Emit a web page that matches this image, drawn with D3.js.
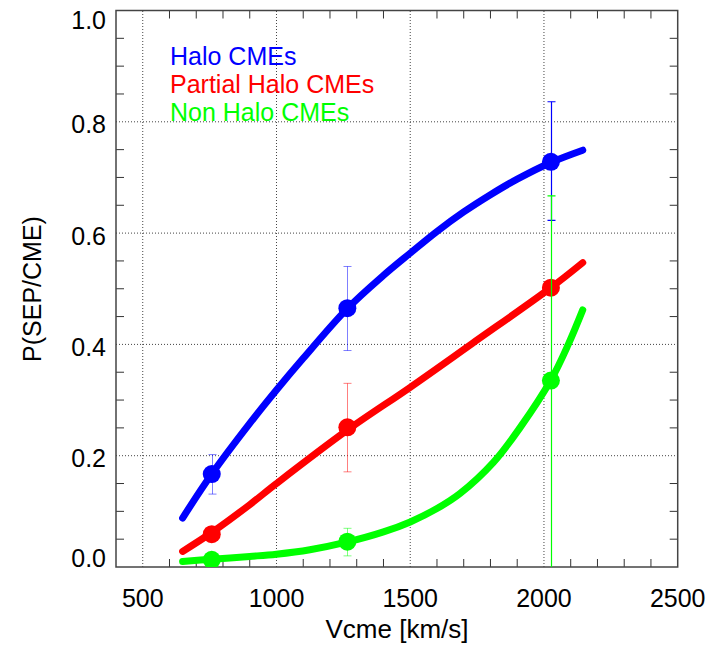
<!DOCTYPE html>
<html>
<head>
<meta charset="utf-8">
<script src="https://cdn.jsdelivr.net/npm/d3@7"></script>
<style>
  html, body { margin: 0; padding: 0; background: #fff; }
  svg { display: block; }
  text { font-family: "Liberation Sans", Arial, Helvetica, sans-serif; fill: #000; }
</style>
</head>
<body>
<svg id="chart" width="717" height="646"></svg>
<script>
// ---------------- data ----------------
const seriesNames = ["Halo CMEs", "Partial Halo CMEs", "Non Halo CMEs"];
const seriesColors = ["#0000ff", "#ff0000", "#00ff00"];

// fitted curves
const haloCurveX = [649, 758, 900, 1000, 1100, 1262, 1400, 1500, 1600, 1700, 1800, 1900, 2026, 2145];
const haloCurveY = [0.088, 0.167, 0.258, 0.318, 0.375, 0.463, 0.524, 0.564, 0.603, 0.638, 0.669, 0.697, 0.727, 0.749];
const partialCurveX = [649, 758, 900, 1000, 1262, 1500, 1730, 2026, 2145];
const partialCurveY = [0.028, 0.062, 0.112, 0.150, 0.245, 0.323, 0.401, 0.502, 0.547];
const nonCurveX = [649, 758, 900, 1000, 1125, 1266, 1400, 1500, 1600, 1686, 1811, 1910, 2026, 2091, 2145];
const nonCurveY = [0.010, 0.014, 0.019, 0.023, 0.031, 0.045, 0.063, 0.081, 0.105, 0.132, 0.188, 0.250, 0.336, 0.400, 0.462];

// binned points with error bars
const pointX = [758, 1265, 2026];
const haloP = [0.167, 0.465, 0.728];
const haloLo = [0.131, 0.389, 0.623];
const haloHi = [0.202, 0.540, 0.836];
const partialP = [0.059, 0.251, 0.502];
const partialLo = [null, 0.171, null];
const partialHi = [null, 0.330, null];
const nonP = [0.013, 0.0455, 0.335];
const nonLo = [null, 0.020, 0.0];
const nonHi = [null, 0.0695, 0.667];

const xTickValues = [500, 1000, 1500, 2000, 2500];
const yTickValues = [0.0, 0.2, 0.4, 0.6, 0.8, 1.0];
const xTickLabels = ["500", "1000", "1500", "2000", "2500"];
const yTickLabels = ["0.0", "0.2", "0.4", "0.6", "0.8", "1.0"];
const xTitle = "Vcme [km/s]";
const yTitle = "P(SEP/CME)";

// ---------------- layout ----------------
const L = 116, R = 677.7, T = 10.5, B = 567;
const x = d3.scaleLinear().domain([400, 2500]).range([L, R]);
const y = d3.scaleLinear().domain([0, 1]).range([B, T]);

const svg = d3.select("#chart");

svg.append("defs").append("clipPath").attr("id", "plotclip")
  .append("rect").attr("x", L).attr("y", T).attr("width", R - L).attr("height", B - T);

// grid (dotted)
const grid = svg.append("g").attr("stroke", "#444").attr("stroke-width", 1).attr("stroke-dasharray", "1,2");
xTickValues.filter(v => v < 2500).forEach(v => {
  grid.append("line").attr("x1", x(v)).attr("x2", x(v)).attr("y1", B).attr("y2", T);
});
yTickValues.filter(v => v > 0 && v < 1).forEach(v => {
  grid.append("line").attr("x1", L).attr("x2", R).attr("y1", y(v)).attr("y2", y(v));
});

// minor ticks
const ticks = svg.append("g").attr("stroke", "#333").attr("stroke-width", 1);
const tlen = 8;
d3.range(500, 2500, 100).filter(v => v % 500 !== 0).forEach(v => {
  ticks.append("line").attr("x1", x(v)).attr("x2", x(v)).attr("y1", B).attr("y2", B - tlen);
  ticks.append("line").attr("x1", x(v)).attr("x2", x(v)).attr("y1", T).attr("y2", T + tlen);
});
d3.range(0.05, 1.0, 0.05).filter(v => Math.abs(v * 5 - Math.round(v * 5)) > 1e-6).forEach(v => {
  ticks.append("line").attr("x1", L).attr("x2", L + tlen).attr("y1", y(v)).attr("y2", y(v));
  ticks.append("line").attr("x1", R).attr("x2", R - tlen).attr("y1", y(v)).attr("y2", y(v));
});

// frame
svg.append("rect").attr("x", L).attr("y", T).attr("width", R - L).attr("height", B - T)
  .attr("fill", "none").attr("stroke", "#444").attr("stroke-width", 1.5);

// tick labels
svg.append("g").selectAll("text").data(xTickValues).join("text")
  .attr("x", d => x(d)).attr("y", 606.5).attr("text-anchor", "middle")
  .attr("font-size", 25).text((d, i) => xTickLabels[i]);
svg.append("g").selectAll("text").data(yTickValues).join("text")
  .attr("x", 106).attr("y", d => y(d) + (d === 0 ? 0 : d === 1 ? 18.5 : 11.5))
  .attr("text-anchor", "end").attr("font-size", 25).text((d, i) => yTickLabels[i]);

// axis titles
svg.append("text").attr("x", 397).attr("y", 638).attr("text-anchor", "middle")
  .attr("font-size", 26).text(xTitle);
svg.append("text").attr("transform", "translate(41,289) rotate(-90)").attr("text-anchor", "middle")
  .attr("font-size", 25).text(yTitle);

// series
const series = [
  { cx: haloCurveX, cy: haloCurveY, p: haloP, lo: haloLo, hi: haloHi },
  { cx: partialCurveX, cy: partialCurveY, p: partialP, lo: partialLo, hi: partialHi },
  { cx: nonCurveX, cy: nonCurveY, p: nonP, lo: nonLo, hi: nonHi }
];
const line = d3.line().x(d => x(d[0])).y(d => y(d[1])).curve(d3.curveCatmullRom.alpha(0.5));
const plot = svg.append("g").attr("clip-path", "url(#plotclip)");

series.forEach((s, si) => {
  const col = seriesColors[si];
  const pts = s.cx.map((v, i) => [v, s.cy[i]]);
  plot.append("path").attr("d", line(pts)).attr("fill", "none")
    .attr("stroke", col).attr("stroke-width", 7).attr("stroke-linecap", "round").attr("stroke-linejoin", "round");
  pointX.forEach((v, i) => {
    plot.append("circle").attr("cx", x(v)).attr("cy", y(s.p[i])).attr("r", 9).attr("fill", col);
  });
  pointX.forEach((v, i) => {
    if (s.lo[i] === null) return;
    const op = i < 2 ? 0.5 : 1;
    const g = plot.append("g").attr("stroke", col).attr("stroke-width", i < 2 ? 1 : 1.2).attr("stroke-opacity", op);
    const xc = Math.round(x(v)) + 0.5;
    g.append("line").attr("x1", xc).attr("x2", xc).attr("y1", y(s.lo[i])).attr("y2", y(s.hi[i]));
    g.append("line").attr("x1", xc - 4).attr("x2", xc + 4).attr("y1", y(s.hi[i])).attr("y2", y(s.hi[i]));
    if (s.lo[i] > 0) g.append("line").attr("x1", xc - 4).attr("x2", xc + 4).attr("y1", y(s.lo[i])).attr("y2", y(s.lo[i]));
  });
});

// legend
seriesNames.forEach((n, i) => {
  svg.append("text").attr("x", 170).attr("y", 65 + i * 27.8).attr("font-size", 25)
    .style("fill", seriesColors[i]).text(n);
});
</script>
</body>
</html>
